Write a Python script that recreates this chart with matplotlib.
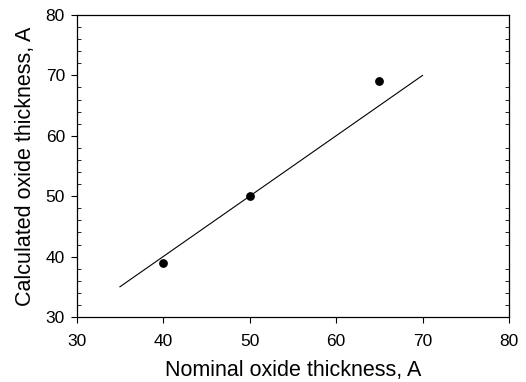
import matplotlib
matplotlib.use("Agg")
import matplotlib.pyplot as plt
from matplotlib.ticker import MultipleLocator

plt.rcParams['font.family'] = ['Liberation Sans', 'DejaVu Sans']

# measured oxide thickness against nominal thickness
nominal = [40, 50, 65]
calculated = [39, 50, 69]

# reference line y = x
ref_x = [35, 70]
ref_y = [35, 70]

fig = plt.figure(figsize=(5.26, 3.82), dpi=100)
ax = fig.add_axes([0.1458, 0.1702, 0.8219, 0.7905])

ax.plot(ref_x, ref_y, color='black', linewidth=0.8)
ax.plot(nominal, calculated, 'o', color='black', markersize=5.3)

ax.set_xlim(30, 80)
ax.set_ylim(30, 80)
ax.xaxis.set_major_locator(MultipleLocator(10))
ax.yaxis.set_major_locator(MultipleLocator(10))
ax.yaxis.set_minor_locator(MultipleLocator(2))

ax.tick_params(axis='x', which='major', direction='out', length=4, width=0.8,
               labelsize=12.5, pad=8.5, top=False)
ax.tick_params(axis='y', which='major', direction='out', length=4, width=0.8,
               labelsize=12.5, pad=4.5, right=False)
ax.tick_params(axis='y', which='minor', direction='in', length=3, width=0.6,
               left=True, right=True)

for s in ax.spines.values():
    s.set_linewidth(0.9)

ax.set_xlabel('Nominal oxide thickness, A', fontsize=15.5, labelpad=8)
ax.set_ylabel('Calculated oxide thickness, A', fontsize=15.5, labelpad=6.5)

fig.savefig('out.png', dpi=100)
